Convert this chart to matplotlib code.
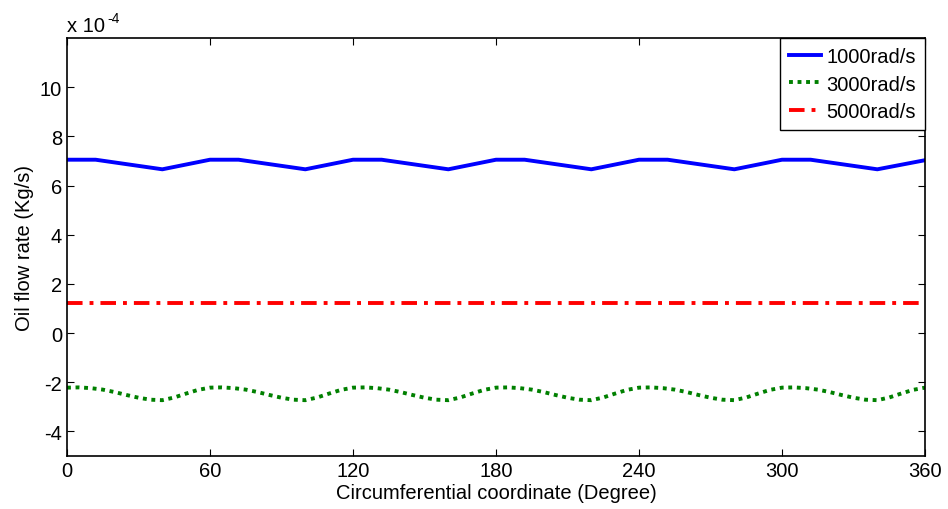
import numpy as np
import matplotlib.pyplot as plt

plt.rcParams["font.family"] = "Liberation Sans"
plt.rcParams["axes.unicode_minus"] = False

# values in units of 1e-4 kg/s
angle_blue = [0, 12, 40, 60, 72, 100, 120, 132, 160, 180, 192, 220,
              240, 252, 280, 300, 312, 340, 360]
flow_1000 = [7.05, 7.05, 6.66, 7.05, 7.05, 6.66, 7.05, 7.05, 6.66, 7.05, 7.05, 6.66,
             7.05, 7.05, 6.66, 7.05, 7.05, 6.66, 7.03]

angle_green = list(range(0, 361, 5))
flow_3000 = [
    -2.22, -2.21, -2.24, -2.30, -2.40, -2.52, -2.63, -2.71, -2.73, -2.62, -2.46, -2.31,
    -2.22, -2.21, -2.24, -2.30, -2.40, -2.52, -2.63, -2.71, -2.73, -2.62, -2.46, -2.31,
    -2.22, -2.21, -2.24, -2.30, -2.40, -2.52, -2.63, -2.71, -2.73, -2.62, -2.46, -2.31,
    -2.22, -2.21, -2.24, -2.30, -2.40, -2.52, -2.63, -2.71, -2.73, -2.62, -2.46, -2.31,
    -2.22, -2.21, -2.24, -2.30, -2.40, -2.52, -2.63, -2.71, -2.73, -2.62, -2.46, -2.31,
    -2.22, -2.21, -2.24, -2.30, -2.40, -2.52, -2.63, -2.71, -2.73, -2.62, -2.46, -2.31,
    -2.22]

angle_red = [0, 360]
flow_5000 = [1.23, 1.23]

FS = 14.5

fig = plt.figure(figsize=(9.48, 5.1), dpi=100)
ax = fig.add_axes([67/948, 53/510, 858/948, 418/510])

ax.plot(angle_blue, flow_1000, color='#0000ff', lw=2.8, label='1000rad/s')
ax.plot(angle_green, flow_3000, color='#008000', lw=2.8, ls=(0, (1, 1.2)), label='3000rad/s')
ax.plot(angle_red, flow_5000, color='#ff0000', lw=2.8, ls=(0, (4, 1.8, 1, 1.8)), label='5000rad/s')

ax.set_xlim(0, 360)
ax.set_ylim(-5, 12)
ax.set_xticks(np.arange(0, 361, 60))
ax.set_yticks(np.arange(-4, 11, 2))
ax.tick_params(direction='in', top=True, right=True, labelsize=FS, length=5)
for s in ax.spines.values():
    s.set_linewidth(1.2)

ax.set_xlabel('Circumferential coordinate (Degree)', fontsize=FS, labelpad=2)
ax.set_ylabel('Oil flow rate (Kg/s)', fontsize=FS, labelpad=4)

# MATLAB style exponent label above the y axis
ax.annotate('x 10', xy=(0, 1), xycoords='axes fraction', xytext=(0, 5),
            textcoords='offset points', fontsize=FS, va='baseline', ha='left')
ax.annotate('-4', xy=(0, 1), xycoords='axes fraction', xytext=(29, 11.5),
            textcoords='offset points', fontsize=10, va='baseline', ha='left')

leg = ax.legend(loc='upper right', fontsize=FS, handlelength=1.6, handletextpad=0.25,
                borderaxespad=0, labelspacing=0.42, borderpad=0.45, fancybox=False,
                framealpha=1)
leg.get_frame().set_edgecolor('black')
leg.get_frame().set_linewidth(1.0)

plt.savefig('out.png', dpi=100)
